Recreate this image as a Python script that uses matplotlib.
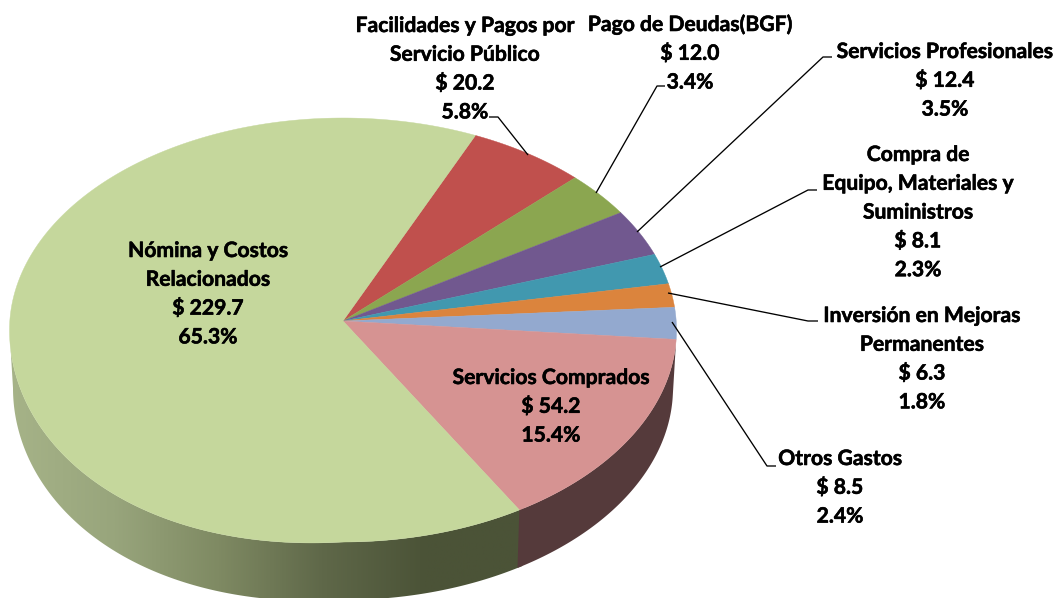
import numpy as np
import matplotlib
matplotlib.use("Agg")
import matplotlib.pyplot as plt
import matplotlib.patheffects as pe
from matplotlib.colors import LinearSegmentedColormap

plt.rcParams['font.family'] = ['Lato', 'DejaVu Sans']

# order = clockwise round the pie, starting after the big slice
names = [
    ["Facilidades y Pagos por", "Servicio Público"],
    ["Pago de Deudas(BGF)"],
    ["Servicios Profesionales"],
    ["Compra de", "Equipo, Materiales y", "Suministros"],
    ["Inversión en Mejoras", "Permanentes"],
    ["Otros Gastos"],
    ["Servicios Comprados"],
    ["Nómina y Costos", "Relacionados"],
]
amounts = [20.2, 12.0, 12.4, 8.1, 6.3, 8.5, 54.2, 229.7]
percents = [5.8, 3.4, 3.5, 2.3, 1.8, 2.4, 15.4, 65.3]
colors = ["#C0504D", "#8BA650", "#71588F", "#4198AF", "#DB843D", "#93A9CF", "#D69392", "#C5D79C"]

label_x = [465, 690, 945, 918, 922, 840, 551, 208]
label_y = [25, 24, 51, 154, 315, 458, 377, 250]
leaders = [
    [(528, 155), (498, 117), (489, 117)],
    [(596, 193), (657, 86), (665, 86)],
    [(637, 232), (823, 57), (832, 57)],
    [(660, 267), (808, 190), (817, 190)],
    [(668, 293), (808, 321), (818, 321)],
    [(672, 322), (767, 466), (776, 466)],
]

apex = (343, 321)
cx, cy = 343, 330
start = 66.6
depth = 58


def rim(deg, rx=333.5):
    t = np.radians(deg)
    s, c = np.sin(t), np.cos(t)
    y = cy - 212 * s
    # the front left of the picture bulges a little
    y = y + 20 * np.abs(s * c) * ((s < 0) & (c < 0))
    return cx + rx * c, y


def wall(a, b):
    th = np.linspace(a, b, 200)
    x1, y1 = rim(th)
    x2, y2 = rim(th, 330)
    return np.concatenate([x1, x2[::-1]]), np.concatenate([y1, y2[::-1] + depth])


fig = plt.figure(figsize=(10.57, 5.98), dpi=100)
ax = fig.add_axes([0, 0, 1, 1])

edges = start - np.concatenate([[0], np.cumsum(amounts)]) / sum(amounts) * 360

# side wall, front part only
shade = LinearSegmentedColormap.from_list(
    "side", ["#A6B388", "#98A57C", "#7F8A63", "#5F6849", "#4B5337", "#4B5337"])
grad = ax.imshow(np.linspace(0, 1, 512)[None, :], cmap=shade, extent=(10, 530, 600, 300),
                 aspect="auto", zorder=1)
wx, wy = wall(-180, edges[7] + 1)
poly = ax.fill(wx, wy, color="none", zorder=1)[0]
grad.set_clip_path(poly)

wx, wy = wall(edges[6], edges[7])
ax.fill(wx, wy, color="#553A3B", lw=0, zorder=1.5)

# top face
for i in range(len(amounts)):
    th = np.linspace(edges[i], edges[i + 1], 300)
    x, y = rim(th)
    ax.fill(np.r_[apex[0], x], np.r_[apex[1], y], color=colors[i], lw=0.3, zorder=2)

for pts in leaders:
    xs, ys = zip(*pts)
    ax.plot(xs, ys, color="black", lw=0.95, zorder=3, solid_capstyle="butt")

step = 28.8
for i in range(len(names)):
    lines = names[i] + [f"$ {amounts[i]:.1f}", f"{percents[i]:.1f}%"]
    for k, line in enumerate(lines):
        ax.text(label_x[i], label_y[i] + k * step + 7, line, ha="center", va="baseline",
                fontsize=15.2, fontweight="bold", color="black", zorder=4,
                path_effects=[pe.withStroke(linewidth=0.4, foreground="black")])

ax.set_xlim(0, 1057)
ax.set_ylim(598, 0)
ax.axis("off")
fig.savefig("out.png", dpi=100, facecolor="white")
